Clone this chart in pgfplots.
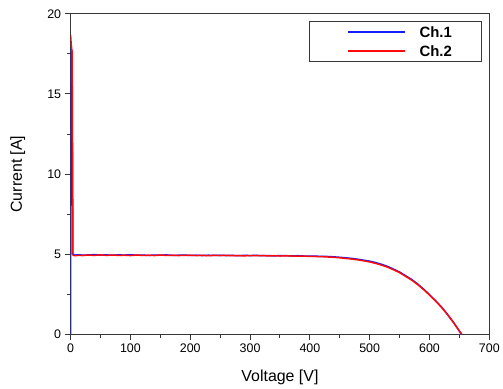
\documentclass[border=0pt]{standalone}
\usepackage{fontspec}
\setmainfont{Liberation Sans}
\usepackage{pgfplots}
\pgfplotsset{compat=1.18}
\definecolor{chblue}{RGB}{20,30,255}
\definecolor{chred}{RGB}{255,10,10}
\definecolor{axgray}{RGB}{55,55,55}
\begin{document}
\begin{tikzpicture}
\begin{axis}[
  scale only axis,
  width=421bp, height=322bp,
  xmin=0, xmax=700, ymin=0, ymax=20,
  xtick={0,100,...,700}, ytick={0,5,...,20},
  minor x tick num=1, minor y tick num=1,
  tick align=outside,
  xtick pos=bottom, ytick pos=left,
  major tick length=6bp, minor tick length=3.5bp,
  axis line style={axgray, line width=1.1pt},
  every tick/.style={axgray, line width=1pt},
  /pgf/number format/assume math mode=true,
  ticklabel style={font=\fontsize{12.5bp}{15bp}\selectfont},
  xlabel={Voltage [V]}, ylabel={Current [A]},
  every axis x label/.style={at={(axis description cs:0.5,-0.135)}, anchor=center, font=\fontsize{16bp}{19bp}\selectfont},
  every axis y label/.style={at={(axis description cs:-0.126,0.5)}, rotate=90, anchor=center, font=\fontsize{16bp}{19bp}\selectfont},
  legend style={at={(axis description cs:0.983,0.978)}, anchor=north east,
    draw=axgray, line width=1pt, inner xsep=30bp, inner ysep=5bp,
    font=\fontsize{15bp}{18bp}\selectfont\bfseries,
    row sep=8bp, column sep=14bp,
    nodes={inner sep=0pt, text height=11bp, text depth=0bp}},
  legend cell align=left,
  legend image code/.code={\path (0bp,0bp); \draw[#1, line width=2.2pt] (8bp,0bp) -- (65bp,0bp);},
]
\addplot[chblue, line width=1.5pt] coordinates {
(0,0) (0.3,17.8) (2,17.7) (3.5,5.0) (8,4.94) (15,4.96) (20,4.93) (30,4.95) (40,4.97)
(50,4.94) (60,4.95) (70,4.93) (80,4.95) (90,4.94) (100,4.96) (110,4.93) (120,4.94)
(130,4.92) (140,4.94) (150,4.93) (160,4.95) (170,4.92) (180,4.93) (190,4.94) (200,4.92)
(210,4.93) (220,4.91) (230,4.93) (240,4.92) (250,4.93) (260,4.91) (270,4.92) (280,4.90)
(290,4.92) (300,4.91) (310,4.92) (320,4.90) (330,4.91) (340,4.89) (350,4.91) (360,4.90)
(370,4.89) (380,4.90) (390,4.88) (400,4.88) (410,4.87) (420,4.86) (430,4.85) (440,4.83)
(450,4.80) (460,4.77) (470,4.73) (480,4.68) (490,4.62) (500,4.56) (510,4.47) (520,4.36)
(530,4.23) (540,4.06) (550,3.88) (560,3.65) (570,3.42) (580,3.14) (590,2.82) (600,2.47)
(610,2.10) (620,1.70) (630,1.24) (640,0.74) (650,0.18) (653,0)
};
\addlegendentry{Ch.1}
\addplot[chred, line width=1.5pt] coordinates {
(0,18.7) (1,18.1) (2.5,17.6) (4,4.92) (8,4.90) (15,4.93) (20,4.91) (30,4.94) (40,4.92)
(50,4.95) (60,4.92) (70,4.94) (80,4.92) (90,4.93) (100,4.91) (110,4.94) (120,4.92)
(130,4.93) (140,4.91) (150,4.94) (160,4.92) (170,4.93) (180,4.91) (190,4.92) (200,4.93)
(210,4.91) (220,4.92) (230,4.90) (240,4.92) (250,4.91) (260,4.92) (270,4.90) (280,4.91)
(290,4.89) (300,4.91) (310,4.90) (320,4.91) (330,4.89) (340,4.90) (350,4.88) (360,4.89)
(370,4.88) (380,4.87) (390,4.87) (400,4.86) (410,4.85) (420,4.84) (430,4.82) (440,4.80)
(450,4.77) (460,4.73) (470,4.69) (480,4.64) (490,4.58) (500,4.51) (510,4.42) (520,4.31)
(530,4.18) (540,4.02) (550,3.84) (560,3.61) (570,3.38) (580,3.10) (590,2.79) (600,2.44)
(610,2.07) (620,1.68) (630,1.22) (640,0.73) (650,0.20) (654,0)
};
\addlegendentry{Ch.2}
\end{axis}
\path ([shift={(-71bp,-53bp)}]current axis.south west) rectangle ([shift={(11bp,14bp)}]current axis.north east);
\end{tikzpicture}
\end{document}
